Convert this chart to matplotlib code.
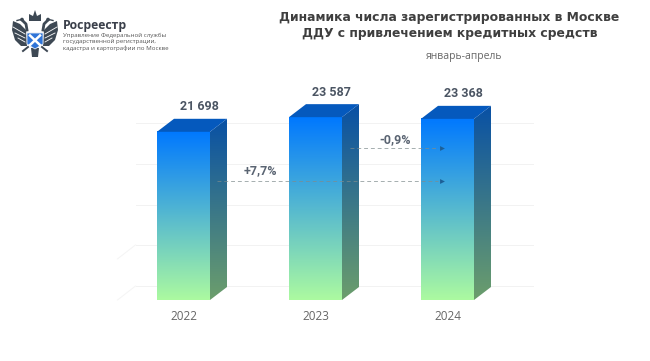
import matplotlib
matplotlib.use("Agg")
import matplotlib.pyplot as plt
import numpy as np
from matplotlib.patches import Polygon, Circle

# data
years = ["2022", "2023", "2024"]
values = [21698, 23587, 23368]
value_labels = ["21 698", "23 587", "23 368"]
grid_values = [0, 5300, 10500, 15700, 21000]
change_labels = ["+7,7%", "-0,9%"]

title_lines = ["Динамика числа зарегистрированных в Москве", "ДДУ с привлечением кредитных средств"]
subtitle = "январь-апрель"
org_name = "Росреестр"
org_lines = ["Управление Федеральной службы", "государственной регистрации,", "кадастра и картографии по Москве"]

# one data unit on each axis in pixels
px_x = 132.0
px_y = 1 / 129.0
bar_w = 53 / px_x
depth_x = 17 / px_x
depth_y = 13 / px_y

fig = plt.figure(figsize=(6.5, 3.61), dpi=100)
ax = fig.add_axes([0, 0, 1, 1])
ax.axis("off")

# overlay in pixel coordinates for the texts, arrows and logo
ov = fig.add_axes([0, 0, 1, 1], zorder=5)
ov.set_xlim(0, 650)
ov.set_ylim(361, 0)
ov.axis("off")
ov.patch.set_alpha(0)


def gradient(top, bottom):
    t = np.linspace(0, 1, 256)
    return np.stack([np.interp(t, [0, 1], [top[c], bottom[c]]) for c in range(3)], axis=1).reshape(-1, 1, 3) / 255


# floor and back wall lines
for g in grid_values:
    back = g + 14 / px_y
    ax.plot([-48 / px_x, 349 / px_x], [back, back], color="#f2f2f2", lw=0.7, zorder=1)
for g in grid_values[:2]:
    ax.plot([-66 / px_x, -48 / px_x], [g, g + 14 / px_y], color="#f4f4f4", lw=0.7, zorder=1)

front_grad = gradient((0, 120, 255), (172, 250, 160))
side_grad = gradient((8, 80, 165), (108, 158, 108))

for i, v in enumerate(values):
    x0 = i - bar_w / 2
    x1 = i + bar_w / 2

    # front
    ax.imshow(front_grad, extent=[x0, x1, 0, v], aspect="auto", zorder=2, interpolation="bilinear")

    # side, gradient clipped to the slanted face
    side = Polygon([(x1, 0), (x1 + depth_x, depth_y), (x1 + depth_x, v + depth_y), (x1, v)],
                   closed=True, fc="none", ec="none", transform=ax.transData)
    ax.add_patch(side)
    im2 = ax.imshow(side_grad, extent=[x1, x1 + depth_x, 0, v + depth_y], aspect="auto", zorder=2,
                    interpolation="bilinear")
    im2.set_clip_path(side)

    # top
    ax.add_patch(Polygon([(x0, v), (x1, v), (x1 + depth_x, v + depth_y), (x0 + depth_x, v + depth_y)],
                         closed=True, fc="#0559bd", ec="none", zorder=3))

    ax.text(i + 16 / px_x, v + depth_y + 12 / px_y, value_labels[i], ha="center", va="center", fontsize=9,
            fontweight="bold", family="Roboto", color="#4b5563", zorder=4)
    ax.text(i, -16 / px_y, years[i], ha="center", va="center", fontsize=8.5, family="Open Sans",
            color="#666666", zorder=4)

ax.set_xlim(-183.5 / px_x, (650 - 183.5) / px_x)
ax.set_ylim(-61 / px_y, 300 / px_y)

# change arrows
for y0, x_start, label, lx, ly in [(181, 217, change_labels[0], 260, 171), (148, 350, change_labels[1], 395, 140)]:
    ov.plot([x_start, 438], [y0, y0], color="#7f8c8d", lw=0.7, ls=(0, (4, 3)), alpha=0.7)
    ov.plot([442], [y0], marker=">", ms=3.5, color="#1c5f96", mec="none")
    ov.text(lx, ly, label, ha="center", va="center", fontsize=9, fontweight="bold", family="Roboto",
            color="#5a6472")

# title
ov.text(449.5, 17.5, title_lines[0], ha="center", va="center", fontsize=8.9, fontweight="bold",
        family="DejaVu Sans", color="#3f3f3f")
ov.text(449.5, 33, title_lines[1], ha="center", va="center", fontsize=8.9, fontweight="bold",
        family="DejaVu Sans", color="#3f3f3f")
ov.text(464, 56, subtitle, ha="center", va="center", fontsize=7.5, family="Open Sans", color="#666666")

# org block
ov.text(63, 25, org_name, ha="left", va="center", fontsize=8.8, fontweight="bold", family="Open Sans",
        color="#3a3f4a")
for k, line in enumerate(org_lines):
    ov.text(63, 35.5 + k * 6.4, line, ha="left", va="center", fontsize=4.4, family="Open Sans", color="#555555")

# logo, rough eagle
logo_c = "#3d4854"
cx = 35
for s in [-1, 1]:
    # wing
    ov.add_patch(Polygon([(cx + s * 9, 30), (cx + s * 15, 24), (cx + s * 22, 21), (cx + s * 23, 30),
                          (cx + s * 20, 40), (cx + s * 14, 46), (cx + s * 8, 46)],
                         closed=True, fc=logo_c, ec="none"))
    # white feather gaps
    for a, b, c, d in [(10, 34, 22, 27), (10, 38, 20, 33), (10, 42, 17, 38)]:
        ov.plot([cx + s * a, cx + s * c], [b, d], color="white", lw=0.6)
    # neck and head
    ov.plot([cx + s * 8, cx + s * 9, cx + s * 13], [30, 24, 20], color=logo_c, lw=2)
    ov.add_patch(Circle((cx + s * 13, 19.5), 1.8, fc=logo_c, ec="none"))
    ov.plot([cx + s * 14, cx + s * 18], [19.5, 20.5], color=logo_c, lw=1)
    # legs
    ov.plot([cx + s * 7, cx + s * 12], [47, 51], color=logo_c, lw=1.4)

# crown and tail
ov.add_patch(Polygon([(cx - 6, 21), (cx - 6, 14), (cx - 2, 16), (cx, 10), (cx + 2, 16), (cx + 6, 14), (cx + 6, 21)],
                     closed=True, fc=logo_c, ec="none"))
ov.add_patch(Polygon([(cx - 4, 48), (cx + 4, 48), (cx + 3, 57), (cx - 3, 57)], closed=True, fc=logo_c, ec="none"))

# shield
ov.add_patch(Polygon([(cx - 8, 33), (cx + 8, 33), (cx + 8, 44), (cx, 49), (cx - 8, 44)], closed=True,
                     fc="#2f74d8", ec="#dfe7f2", lw=0.6, zorder=4))
ov.plot([cx - 5, cx + 5], [35.5, 45], color="white", lw=1.8, zorder=5)
ov.plot([cx + 5, cx - 5], [35.5, 45], color="white", lw=1.8, zorder=5)

fig.savefig("out.png", dpi=100, facecolor="white")
